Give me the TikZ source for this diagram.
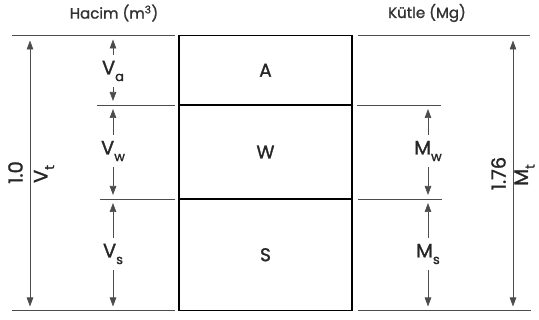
\documentclass[tikz,border=0pt]{standalone}
\usepackage{fontspec}
\setmainfont{Poppins}[FakeBold=1.3]
\usetikzlibrary{arrows.meta}
\newcommand\lowsub[1]{\raisebox{-0.34em}{\fontsize{13}{13}\selectfont #1}}
\begin{document}
\begin{tikzpicture}[x=1pt,y=-1pt,
  level/.style={draw=black!70, line width=0.8pt},
  dim/.style={draw=black!70, line width=0.7pt, -{Triangle[length=9pt,width=6.5pt]}, shorten >=4pt},
  big/.style={draw=black!70, line width=0.7pt, {Triangle[length=9pt,width=6.5pt]}-{Triangle[length=9pt,width=6.5pt]}, shorten >=4pt, shorten <=5pt},
  phase/.style={draw=black, line width=1.5pt, minimum width=173pt, inner sep=0pt, font=\fontsize{18.5}{18.5}\selectfont, text=black!85},
  lbl/.style={font=\fontsize{19.5}{19.5}\selectfont, text=black!85, inner sep=6pt},
  rlbl/.style={font=\fontsize{19.5}{19.5}\selectfont, text=black!85, inner sep=1pt, rotate=90},
  head/.style={font=\fontsize{15}{15}\selectfont, text=black!80}
]
\useasboundingbox (0,0) rectangle (539,320);

% headings
\node[head] (hacim) at (114,13) {Hacim (m\textsuperscript{3})};
\node[head] (kutle) at (427,13) {Kütle (Mg)};

% phase box
\node[phase, minimum height=69.5pt] (A) at (265.5,70.25) {A};
\node[phase, minimum height=94pt] (W) at (265.5,152) {W};
\node[phase, minimum height=111.5pt] (S) at (265.5,254.75) {S};

% level lines, left
\coordinate (l0a) at (12,35.5);  \coordinate (l0b) at (175,35.5);
\coordinate (l1a) at (97,105);   \coordinate (l1b) at (175,105);
\coordinate (l2a) at (100,199);  \coordinate (l2b) at (175,199);
\coordinate (l3a) at (12,310.5); \coordinate (l3b) at (175,310.5);
\draw[level] (l0a) -- (l0b);
\draw[level] (l1a) -- (l1b);
\draw[level] (l2a) -- (l2b);
\draw[level] (l3a) -- (l3b);

% level lines, right
\coordinate (r0a) at (358,35.5);  \coordinate (r0b) at (530,35.5);
\coordinate (r1a) at (357,105);   \coordinate (r1b) at (441,105);
\coordinate (r2a) at (358,199);   \coordinate (r2b) at (442,199);
\coordinate (r3a) at (358,310.5); \coordinate (r3b) at (531,310.5);
\draw[level] (r0a) -- (r0b);
\draw[level] (r1a) -- (r1b);
\draw[level] (r2a) -- (r2b);
\draw[level] (r3a) -- (r3b);

% left volume dimensions
\coordinate (v0) at (113,35.5);
\coordinate (v1) at (113,105);
\coordinate (v2) at (113,199);
\coordinate (v3) at (113,310.5);
\node[lbl] (Va) at (113,71) {V\lowsub{a}};
\node[lbl] (Vw) at (113,151) {V\lowsub{w}};
\node[lbl] (Vs) at (113,254) {V\lowsub{s}};
\draw[dim] (Va) -- (v0);
\draw[dim] (Va) -- (v1);
\draw[dim] (Vw) -- (v1);
\draw[dim] (Vw) -- (v2);
\draw[dim] (Vs) -- (v2);
\draw[dim] (Vs) -- (v3);

% total volume
\coordinate (vt0) at (30,35.5);
\coordinate (vt1) at (30,310.5);
\draw[big] (vt0) -- (vt1);
\node[rlbl] (one) at (15.5,172.5) {1.0};
\node[rlbl] (Vt) at (44,174) {V\lowsub{t}};

% right mass dimensions
\coordinate (m1) at (428,105);
\coordinate (m2) at (428,199);
\coordinate (m3) at (428,310.5);
\node[lbl] (Mw) at (428,151) {M\lowsub{w}};
\node[lbl] (Ms) at (428,254) {M\lowsub{s}};
\draw[dim] (Mw) -- (m1);
\draw[dim] (Mw) -- (m2);
\draw[dim] (Ms) -- (m2);
\draw[dim] (Ms) -- (m3);

% total mass
\coordinate (mt0) at (513,35.5);
\coordinate (mt1) at (513,310.5);
\draw[big] (mt0) -- (mt1);
\node[rlbl] (num) at (498.5,173.5) {1.76};
\node[rlbl] (Mt) at (524.5,175) {M\lowsub{t}};
\end{tikzpicture}
\end{document}
